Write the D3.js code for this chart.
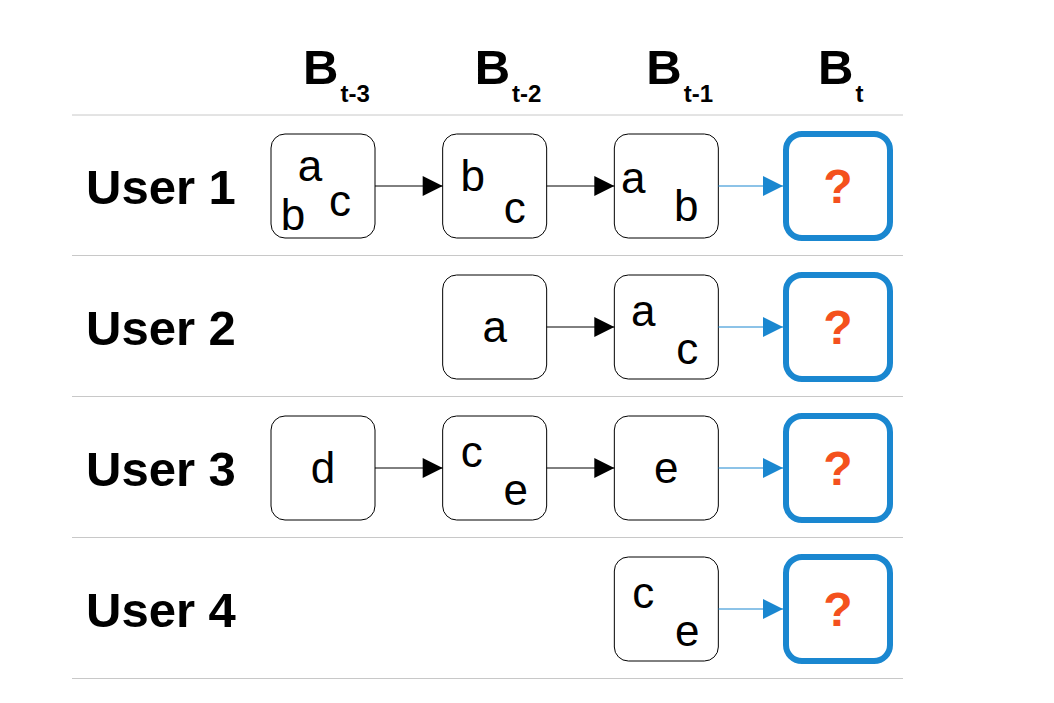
<!DOCTYPE html>
<html><head><meta charset="utf-8">
<script src="https://cdn.jsdelivr.net/npm/d3@7"></script>
<style>body{margin:0;background:#fff}</style>
</head><body>
<script>
const users = ['User 1', 'User 2', 'User 3', 'User 4'];
const periods = ['t-3', 't-2', 't-1', 't'];
// baskets per user per period (null = no basket); last period is the unknown one
const baskets = [
  [['a', 'b', 'c'], ['b', 'c'], ['a', 'b'], '?'],
  [null, ['a'], ['a', 'c'], '?'],
  [['d'], ['c', 'e'], ['e'], '?'],
  [null, null, ['c', 'e'], '?']
];

// item offsets inside a box, by how many items it holds (relative to centre)
const itemLayout = {
  1: [[0, 0]],
  2: [[-23, -16], [21, 22]],
  3: [[-13, -20], [-30, 29], [17, 15]]
};
const layoutOverride = { 'User 1|t-2': [[-22, -10], [20, 22]], 'User 1|t-1': [[-33, -8], [20, 20]] };

const W = 1054, H = 703, box = 104;
const font = 'Liberation Sans, Arial, sans-serif';
const svg = d3.select('body').append('svg').attr('width', W).attr('height', H);

const x = d3.scalePoint().domain(periods).range([323, 838]);
const y = d3.scalePoint().domain(users).range([186, 609]);
const rowStep = y.step();

svg.append('defs').selectAll('marker').data([['blk', '#000'], ['blu', '#1a87d0']]).join('marker')
  .attr('id', d => d[0]).attr('viewBox', '0 0 10 10').attr('refX', 10).attr('refY', 5)
  .attr('markerUnits', 'userSpaceOnUse').attr('markerWidth', 34).attr('markerHeight', 20)
  .attr('orient', 'auto')
  .append('path').attr('d', 'M0,0L10,5L0,10Z').attr('fill', d => d[1]);

// header
periods.forEach(p => {
  const t = svg.append('text').attr('x', x(p) - 20).attr('y', 84).attr('font-family', font).attr('font-weight', 'bold');
  t.append('tspan').attr('font-size', 49).text('B');
  t.append('tspan').attr('font-size', 24).attr('dy', 18).attr('dx', 2).text(p);
});

// row separators
const lines = [115].concat(users.map(u => y(u) + rowStep / 2 - 1));
svg.selectAll('line.sep').data(lines).join('line')
  .attr('x1', 72).attr('x2', 903).attr('y1', d => d).attr('y2', d => d)
  .attr('stroke', '#c8c8c8').attr('stroke-width', 1);

users.forEach((u, i) => {
  const cy = y(u);
  svg.append('text').attr('x', 86).attr('y', cy + 18).text(u)
    .attr('font-family', font).attr('font-weight', 'bold')
    .attr('font-size', 49).attr('fill', '#000');
  baskets[i].forEach((b, j) => {
    if (b === null) return;
    const p = periods[j], cx = x(p);
    const last = b === '?';
    svg.append('rect').attr('x', cx - box / 2).attr('y', cy - box / 2)
      .attr('width', box).attr('height', box).attr('rx', last ? 16 : 14)
      .attr('fill', '#fff').attr('stroke', last ? '#1a87d0' : '#000')
      .attr('stroke-width', last ? 6 : 1);
    if (last) {
      svg.append('text').attr('x', cx).attr('y', cy + 17).attr('text-anchor', 'middle')
        .attr('font-family', font).attr('font-weight', 'bold')
        .attr('font-size', 48).attr('fill', '#f4511e').text('?');
    } else {
      const lay = layoutOverride[u + '|' + p] || itemLayout[b.length];
      b.forEach((it, k) => {
        svg.append('text').attr('x', cx + lay[k][0]).attr('y', cy + lay[k][1] + 15)
          .attr('text-anchor', 'middle').attr('font-family', font)
          .attr('font-size', 44).attr('fill', '#000').text(it);
      });
    }
    if (j > 0 && baskets[i][j - 1] !== null) {
      svg.append('line').attr('x1', x(periods[j - 1]) + box / 2).attr('x2', cx - box / 2 - (last ? 3 : 0))
        .attr('y1', cy).attr('y2', cy)
        .attr('stroke', last ? '#1a87d0' : '#000').attr('stroke-width', 1)
        .attr('marker-end', last ? 'url(#blu)' : 'url(#blk)');
    }
  });
});
</script>
</body></html>
